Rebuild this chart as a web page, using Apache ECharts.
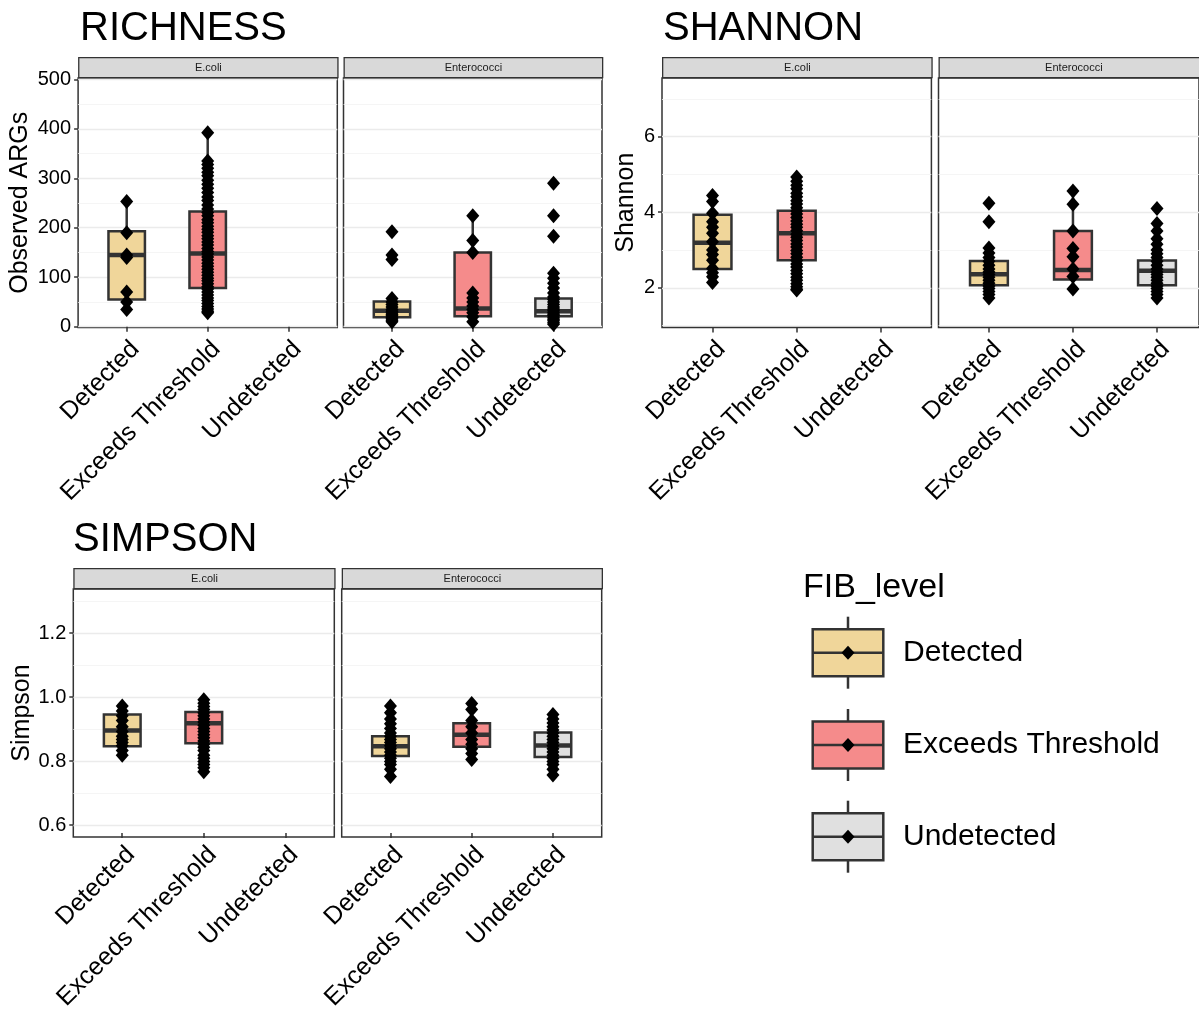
<!DOCTYPE html>
<html>
<head>
<meta charset="utf-8">
<script src="https://cdn.jsdelivr.net/npm/echarts@6/dist/echarts.min.js"></script>
<style>
html,body{margin:0;padding:0;background:#fff;}
#chart{width:1199px;height:1013px;}
</style>
</head>
<body>
<div id="chart"></div>
<script>
// ---------- DATA ----------
const categories = ['Detected', 'Exceeds Threshold', 'Undetected'];
const facets = ['E.coli', 'Enterococci'];
const metricTitles = ['RICHNESS', 'SHANNON', 'SIMPSON'];
const metricAxisNames = ['Observed ARGs', 'Shannon', 'Simpson'];

// y tick labels / grid lines
const richTicks = [0, 100, 200, 300, 400, 500];
const richMinor = [50, 150, 250, 350, 450];
const shanTicks = [2, 4, 6];
const shanMinor = [1, 3, 5, 7];
const simpTicks = [0.6, 0.8, 1.0, 1.2];
const simpMinor = [0.7, 0.9, 1.1, 1.3];

// box stats: [categoryIndex, min, Q1, median, Q3, max]
const richEcoliBox = [[0, 35, 55, 145, 193, 253], [1, 28, 78, 148, 233, 392]];
const richEnteroBox = [[0, 10, 19, 32, 51, 55], [1, 10, 21, 37, 150, 224], [2, 5, 21, 31, 57, 108]];
const shanEcoliBox = [[0, 2.14, 2.50, 3.19, 3.93, 4.44], [1, 1.94, 2.73, 3.44, 4.04, 4.93]];
const shanEnteroBox = [[0, 1.73, 2.07, 2.36, 2.71, 3.05], [1, 1.97, 2.22, 2.47, 3.50, 4.56], [2, 1.73, 2.07, 2.45, 2.72, 3.70]];
const simpEcoliBox = [[0, 0.81, 0.838, 0.888, 0.939, 0.966], [1, 0.757, 0.848, 0.911, 0.947, 0.986]];
const simpEnteroBox = [[0, 0.742, 0.807, 0.838, 0.870, 0.966], [1, 0.796, 0.837, 0.875, 0.911, 0.974], [2, 0.747, 0.804, 0.841, 0.882, 0.939]];

// individual samples
const richEcoliDetected = [253, 190, 145, 140, 70, 50, 35];
const richEcoliExceeds = [392, 335, 328, 320, 312, 305, 296, 288, 280, 271, 262, 255, 246, 238, 231, 224, 216, 210, 203, 197, 191, 184, 178, 171, 165, 158, 152, 147, 141, 135, 128, 122, 116, 110, 104, 98, 93, 87, 81, 76, 70, 64, 58, 53, 47, 41, 36, 31, 28];
const richEnteroDetected = [192, 145, 136, 57, 50, 45, 40, 35, 31, 28, 25, 22, 19, 16, 13, 10];
const richEnteroExceeds = [224, 174, 150, 68, 58, 50, 42, 35, 28, 20, 10];
const richEnteroUndetected = [290, 224, 183, 108, 98, 88, 78, 68, 60, 55, 50, 45, 40, 36, 32, 28, 25, 22, 18, 15, 12, 8, 5];

const shanEcoliDetected = [4.44, 4.28, 3.97, 3.75, 3.60, 3.44, 3.22, 3.0, 2.88, 2.73, 2.51, 2.40, 2.29, 2.14];
const shanEcoliExceeds = [4.93, 4.82, 4.71, 4.62, 4.5, 4.41, 4.3, 4.22, 4.12, 4.03, 3.95, 3.86, 3.77, 3.68, 3.6, 3.51, 3.42, 3.34, 3.25, 3.16, 3.08, 2.99, 2.9, 2.81, 2.72, 2.63, 2.55, 2.46, 2.37, 2.28, 2.2, 2.11, 2.03, 1.96, 1.94];
const shanEnteroDetected = [4.24, 3.75, 3.05, 2.92, 2.8, 2.7, 2.6, 2.5, 2.42, 2.35, 2.28, 2.2, 2.12, 2.05, 1.98, 1.9, 1.82, 1.73];
const shanEnteroExceeds = [4.56, 4.21, 3.5, 3.04, 2.82, 2.5, 2.3, 1.97];
const shanEnteroUndetected = [4.1, 3.7, 3.5, 3.3, 3.15, 3.0, 2.9, 2.8, 2.7, 2.6, 2.5, 2.42, 2.35, 2.28, 2.2, 2.12, 2.05, 1.98, 1.9, 1.82, 1.73];

const simpEcoliDetected = [0.966, 0.95, 0.935, 0.92, 0.9, 0.885, 0.87, 0.86, 0.85, 0.84, 0.825, 0.81];
const simpEcoliExceeds = [0.986, 0.975, 0.965, 0.955, 0.945, 0.935, 0.925, 0.915, 0.905, 0.895, 0.885, 0.875, 0.865, 0.855, 0.845, 0.835, 0.825, 0.81, 0.8, 0.79, 0.78, 0.77, 0.757];
const simpEnteroDetected = [0.966, 0.945, 0.925, 0.91, 0.895, 0.88, 0.87, 0.86, 0.85, 0.84, 0.83, 0.82, 0.81, 0.8, 0.79, 0.78, 0.765, 0.742];
const simpEnteroExceeds = [0.974, 0.955, 0.92, 0.9, 0.88, 0.86, 0.845, 0.83, 0.815, 0.796];
const simpEnteroUndetected = [0.939, 0.925, 0.912, 0.9, 0.89, 0.88, 0.87, 0.86, 0.85, 0.84, 0.83, 0.82, 0.81, 0.8, 0.79, 0.78, 0.765, 0.747];

// ---------- STYLE / LAYOUT ----------
const FONT = 'Liberation Sans, Arial, Helvetica, sans-serif';
const fillColors = ['#F0D69A', '#F58B8B', '#E0E0E0'];
const STROKE = '#333333';

const metricRanges = [
  {min: -1.6, max: 502.6, ticks: richTicks, minor: richMinor, fmt: v => String(v), gap: 45},
  {min: 0.95, max: 7.55, ticks: shanTicks, minor: shanMinor, fmt: v => String(v), gap: 23},
  {min: 0.563, max: 1.338, ticks: simpTicks, minor: simpMinor, fmt: v => v.toFixed(1), gap: 35}
];

const panels = [
  {m: 0, f: 0, left: 78.1, width: 259.2, top: 78, height: 249.5, box: richEcoliBox, pts: [richEcoliDetected, richEcoliExceeds, []]},
  {m: 0, f: 1, left: 343.5, width: 258.5, top: 78, height: 249.5, box: richEnteroBox, pts: [richEnteroDetected, richEnteroExceeds, richEnteroUndetected]},
  {m: 1, f: 0, left: 662, width: 269.4, top: 78, height: 249.5, box: shanEcoliBox, pts: [shanEcoliDetected, shanEcoliExceeds, []]},
  {m: 1, f: 1, left: 938.5, width: 269.4, top: 78, height: 249.5, box: shanEnteroBox, pts: [shanEnteroDetected, shanEnteroExceeds, shanEnteroUndetected]},
  {m: 2, f: 0, left: 73.3, width: 261, top: 589, height: 248, box: simpEcoliBox, pts: [simpEcoliDetected, simpEcoliExceeds, []]},
  {m: 2, f: 1, left: 341.7, width: 260, top: 589, height: 248, box: simpEnteroBox, pts: [simpEnteroDetected, simpEnteroExceeds, simpEnteroUndetected]}
];
const titlePos = [{x: 80, y: 49}, {x: 663, y: 49}, {x: 73, y: 560}];

function renderBox(params, api) {
  const x = api.value(0);
  const lo = api.coord([x, api.value(1)]);
  const q1 = api.coord([x, api.value(2)]);
  const md = api.coord([x, api.value(3)]);
  const q3 = api.coord([x, api.value(4)]);
  const hi = api.coord([x, api.value(5)]);
  const bw = api.size([1, 0])[0] * 0.45;
  const cx = md[0];
  return {
    type: 'group',
    children: [
      {type: 'line', shape: {x1: cx, y1: lo[1], x2: cx, y2: q1[1]}, style: {stroke: STROKE, lineWidth: 2.5}},
      {type: 'line', shape: {x1: cx, y1: q3[1], x2: cx, y2: hi[1]}, style: {stroke: STROKE, lineWidth: 2.5}},
      {type: 'rect', shape: {x: cx - bw / 2, y: q3[1], width: bw, height: q1[1] - q3[1]}, style: {fill: fillColors[x], stroke: STROKE, lineWidth: 2.5}},
      {type: 'line', shape: {x1: cx - bw / 2, y1: md[1], x2: cx + bw / 2, y2: md[1]}, style: {stroke: STROKE, lineWidth: 4.5}}
    ]
  };
}

const grid = [], xAxis = [], yAxis = [], series = [], graphic = [];

panels.forEach((p, i) => {
  const r = metricRanges[p.m];
  const unit = p.width / 3.2;
  const bgGrid = grid.length;
  grid.push({left: p.left, top: p.top, width: p.width, height: p.height, show: true, borderColor: STROKE, borderWidth: 1.5, backgroundColor: 'transparent', containLabel: false});
  const dataGrid = grid.length;
  grid.push({left: p.left + 0.1 * unit, top: p.top, width: 3 * unit, height: p.height, containLabel: false});

  xAxis.push({gridIndex: bgGrid, type: 'value', min: 0, max: 1, show: false});
  const dataX = xAxis.length;
  xAxis.push({
    gridIndex: dataGrid, type: 'category', data: categories,
    axisLine: {show: false},
    axisTick: {show: true, alignWithLabel: true, length: 5, lineStyle: {color: STROKE, width: 1.5}},
    axisLabel: {rotate: 45, fontSize: 25, color: '#000', fontFamily: FONT, margin: 9, interval: 0, align: 'right', verticalAlign: 'top'},
    splitLine: {show: false}
  });

  yAxis.push({
    gridIndex: bgGrid, type: 'value', min: r.min, max: r.max,
    name: p.f === 0 ? metricAxisNames[p.m] : '',
    nameLocation: 'middle', nameRotate: 90, nameGap: r.gap,
    nameTextStyle: {fontSize: 25, color: '#000', fontFamily: FONT},
    axisLine: {show: false},
    axisTick: {show: p.f === 0, length: 4, lineStyle: {color: STROKE, width: 1.5}, customValues: r.ticks},
    axisLabel: {show: p.f === 0, customValues: r.ticks, formatter: r.fmt, fontSize: 20, color: '#000', fontFamily: FONT, margin: 7},
    splitLine: {show: true, lineStyle: {color: '#EBEBEB', width: 1.3}}
  });
  yAxis.push({
    gridIndex: bgGrid, type: 'value', min: r.min, max: r.max, position: 'right',
    axisLine: {show: false},
    axisTick: {show: false, customValues: r.minor},
    axisLabel: {show: false, customValues: r.minor},
    splitLine: {show: true, lineStyle: {color: '#F2F2F2', width: 0.8}}
  });
  const dataY = yAxis.length;
  yAxis.push({gridIndex: dataGrid, type: 'value', min: r.min, max: r.max, show: false, splitLine: {show: false}});

  series.push({
    type: 'custom', xAxisIndex: dataX, yAxisIndex: dataY,
    renderItem: renderBox,
    dimensions: ['x', 'min', 'q1', 'med', 'q3', 'max'],
    encode: {x: 0, y: [1, 2, 3, 4, 5]},
    data: p.box, z: 2, silent: true
  });
  const pts = [];
  p.pts.forEach((arr, ci) => arr.forEach(v => pts.push([ci, v])));
  series.push({
    type: 'scatter', xAxisIndex: dataX, yAxisIndex: dataY,
    symbol: 'diamond', symbolSize: [13, 15],
    itemStyle: {color: '#000', opacity: 1}, data: pts, z: 3, silent: true
  });

  // facet strip
  graphic.push({
    type: 'group', left: p.left, top: p.top - 21, silent: true,
    children: [
      {type: 'rect', shape: {x: 0, y: 0, width: p.width, height: 20}, style: {fill: '#D9D9D9', stroke: STROKE, lineWidth: 1.3}},
      {type: 'text', x: p.width / 2, y: 10, style: {text: facets[p.f], fontSize: 11, fill: '#1a1a1a', fontFamily: FONT, align: 'center', verticalAlign: 'middle'}}
    ]
  });
});

metricTitles.forEach((t, i) => {
  graphic.push({type: 'text', x: titlePos[i].x, y: titlePos[i].y, silent: true,
    style: {text: t, fontSize: 40, fill: '#000', fontFamily: FONT, verticalAlign: 'bottom'}});
});

// legend (drawn as graphics)
graphic.push({type: 'text', x: 803, y: 605, silent: true, style: {text: 'FIB_level', fontSize: 34, fill: '#000', fontFamily: FONT, verticalAlign: 'bottom'}});
const legendCenters = [652.7, 745, 836.7];
categories.forEach((c, i) => {
  const cy = legendCenters[i];
  const x0 = 812.7, w = 70.6, h = 47, cx = x0 + w / 2;
  graphic.push({type: 'group', silent: true, children: [
    {type: 'line', shape: {x1: cx, y1: cy - 36, x2: cx, y2: cy + 36}, style: {stroke: STROKE, lineWidth: 2.5}},
    {type: 'rect', shape: {x: x0, y: cy - h / 2, width: w, height: h}, style: {fill: fillColors[i], stroke: STROKE, lineWidth: 2.5}},
    {type: 'line', shape: {x1: x0, y1: cy, x2: x0 + w, y2: cy}, style: {stroke: STROKE, lineWidth: 2.5}},
    {type: 'polygon', shape: {points: [[cx, cy - 7], [cx + 6.5, cy], [cx, cy + 7], [cx - 6.5, cy]]}, style: {fill: '#000'}}
  ]});
  graphic.push({type: 'text', x: 903, y: cy, silent: true, style: {text: c, fontSize: 30, fill: '#000', fontFamily: FONT, verticalAlign: 'middle'}});
});

const chart = echarts.init(document.getElementById('chart'), null, {renderer: 'canvas'});
chart.setOption({
  animation: false,
  backgroundColor: '#fff',
  grid, xAxis, yAxis, series, graphic
});
</script>
</body>
</html>
